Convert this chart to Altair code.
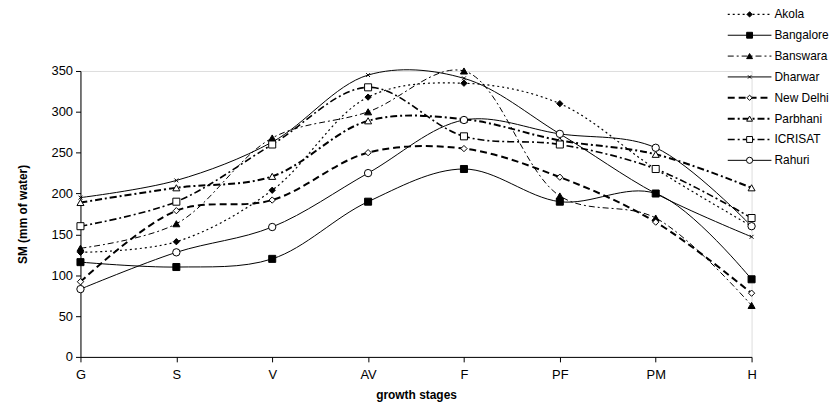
import altair as alt
import pandas as pd

stages = ["G", "S", "V", "AV", "F", "PF", "PM", "H"]
stations = ["Akola", "Bangalore", "Banswara", "Dharwar", "New Delhi", "Parbhani", "ICRISAT", "Rahuri"]

akola = [128, 141, 204, 318, 335, 310, 230, 160]
bangalore = [116, 110, 120, 190, 230, 190, 200, 95]
banswara = [133, 163, 268, 300, 350, 197, 170, 63]
dharwar = [195, 216, 263, 345, 341, 273, 200, 147]
new_delhi = [92, 179, 192, 250, 255, 220, 165, 78]
parbhani = [189, 207, 221, 289, 291, 265, 248, 207]
icrisat = [160, 190, 260, 330, 270, 260, 230, 170]
rahuri = [83, 128, 159, 225, 290, 273, 256, 160]

series = [akola, bangalore, banswara, dharwar, new_delhi, parbhani, icrisat, rahuri]

rows = []
for name, vals in zip(stations, series):
    for stg, v in zip(stages, vals):
        rows.append({"station": name, "stage": stg, "sm": v})
df = pd.DataFrame(rows)
legend_df = pd.DataFrame({"station": stations})

XPATH = "M-0.5,-0.5L0.5,0.5M-0.5,0.5L0.5,-0.5"
style = {
    "Akola": dict(dash=[2, 3], w=1.2, shape="diamond", fill="black", size=40),
    "Bangalore": dict(dash=None, w=1, shape="square", fill="black", size=50),
    "Banswara": dict(dash=[6, 3, 2, 3], w=1, shape="triangle-up", fill="black", size=50),
    "Dharwar": dict(dash=None, w=1, shape=XPATH, fill="none", size=60),
    "New Delhi": dict(dash=[7, 4], w=2, shape="diamond", fill="white", size=40),
    "Parbhani": dict(dash=[7, 3, 2, 3], w=2, shape="triangle-up", fill="white", size=50),
    "ICRISAT": dict(dash=[7, 3, 2, 3], w=1.6, shape="square", fill="white", size=50),
    "Rahuri": dict(dash=None, w=1, shape="circle", fill="white", size=55),
}

FONT = "Liberation Sans"

x_scale = alt.Scale(type="point", domain=stages, padding=0)
y_scale = alt.Scale(domain=[0, 350], nice=False)

x_axis = alt.Axis(title="growth stages", labelAngle=0, labelFontSize=13, labelFont=FONT,
                  labelColor="black", tickSize=5, tickColor="black", domainColor="black",
                  labelPadding=7, titleFontSize=12, titleFont=FONT, titleFontWeight="bold",
                  titleColor="black", titlePadding=8, grid=False)
y_axis = alt.Axis(title="SM (mm of water)", values=[0, 50, 100, 150, 200, 250, 300, 350],
                  labelFontSize=13, labelFont=FONT, labelColor="black", tickSize=5,
                  tickColor="black", domainColor="black", labelPadding=3,
                  titleFontSize=12, titleFont=FONT, titleFontWeight="bold",
                  titleColor="black", titlePadding=22, grid=False)

layers = []
first = True
for s in stations:
    st = style[s]
    base = alt.Chart(df).transform_filter(alt.datum.station == s)
    xe = alt.X("stage:N", sort=stages, scale=x_scale, axis=x_axis if first else None)
    ye = alt.Y("sm:Q", scale=y_scale, axis=y_axis if first else None)
    first = False
    lkw = dict(interpolate="catmull-rom", color="black", strokeWidth=st["w"])
    if st["dash"]:
        lkw["strokeDash"] = st["dash"]
    layers.append(base.mark_line(**lkw).encode(x=xe, y=ye))
    pkw = dict(shape=st["shape"], size=st["size"], stroke="black", strokeWidth=1, opacity=1,
               filled=True, fill=st["fill"])
    layers.append(base.mark_point(**pkw).encode(
        x=alt.X("stage:N", sort=stages, scale=x_scale, axis=None),
        y=alt.Y("sm:Q", scale=y_scale, axis=None)))

# legend built from its own scales
leg_y = alt.Scale(type="point", domain=stations, range=[-57, 90], padding=0)
leg_x = alt.Scale(domain=[0, 2], range=[652, 696], nice=False)
for s in stations:
    st = style[s]
    lb = alt.Chart(legend_df).transform_filter(alt.datum.station == s)
    rkw = dict(color="black", strokeWidth=st["w"])
    if st["dash"]:
        rkw["strokeDash"] = st["dash"]
    layers.append(lb.mark_rule(**rkw).encode(
        x=alt.X(datum=0, type="quantitative", scale=leg_x, axis=None),
        x2=alt.X2(datum=2),
        y=alt.Y("station:N", scale=leg_y, axis=None)))
    layers.append(lb.mark_point(shape=st["shape"], size=st["size"] * 0.7, stroke="black",
                                strokeWidth=1, opacity=1, filled=True, fill=st["fill"]).encode(
        x=alt.X(datum=1, type="quantitative", scale=leg_x, axis=None),
        y=alt.Y("station:N", scale=leg_y, axis=None)))

layers.append(alt.Chart(legend_df).mark_text(align="left", baseline="middle", dx=3,
                                             fontSize=12, font=FONT, color="black").encode(
    x=alt.X(datum=2, type="quantitative", scale=leg_x, axis=None),
    y=alt.Y("station:N", scale=leg_y, axis=None),
    text="station:N"))

chart = alt.layer(*layers).resolve_scale(x="independent", y="independent").properties(
    width=676, height=288,
    autosize=alt.AutoSizeParams(type="none"),
    padding={"left": 73, "top": 62, "right": 80, "bottom": 45},
).configure_view(stroke=None).configure(background="white")

chart.save("out.html", embed_options={"renderer": "svg", "actions": False})
